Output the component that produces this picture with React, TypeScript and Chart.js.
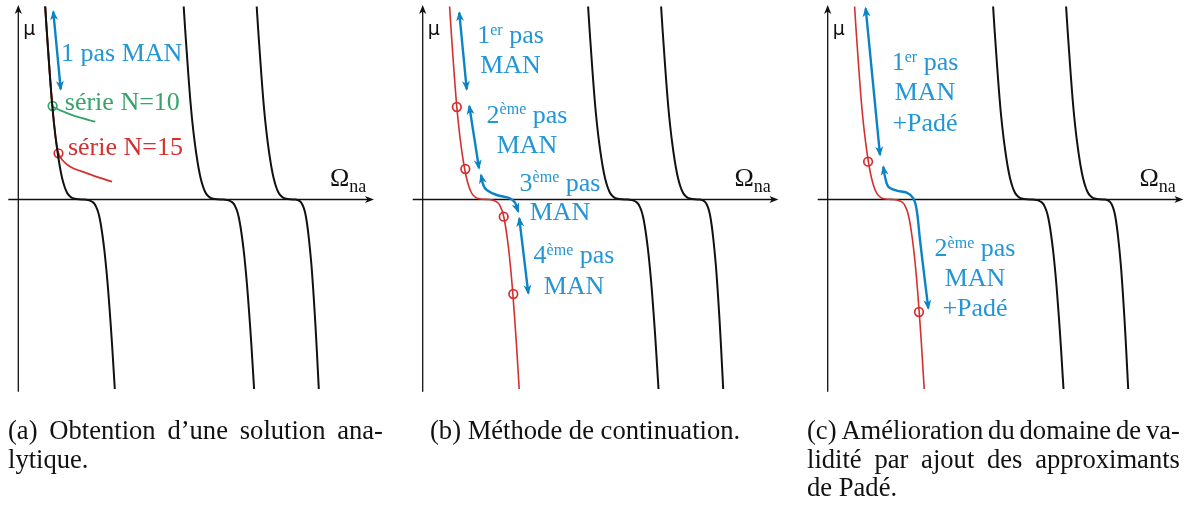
import React, { useEffect, useRef } from "react";
import { Chart, registerables } from "chart.js";

Chart.register(...registerables);

type Pt = [number, number];

// ---------- data (panel-local coordinates: Ω_na horizontal, μ vertical) ----------
const CURVE_1: Pt[] = [
  [26.9, 193], [28.3, 171], [29.8, 149.5], [31.6, 124], [33.5, 99.5], [35, 83], [36.6, 68], [37.95, 57],
  [39.3, 47], [41.5, 33], [43.8, 21.5], [46.2, 13], [48.4, 7.5], [50.35, 4.5], [52.9, 2.2], [55.5, 1.0],
  [60.5, 0.2], [66, 0], [69.7, -0.6], [72.2, -1.4], [74.4, -2.6], [76.2, -4.4], [77.7, -7.2], [79.5, -11.5],
  [81, -17], [82.7, -26], [84.4, -37.5], [86.1, -51], [87.8, -67.5], [89.3, -84], [90.6, -100.5], [92.4, -125],
  [94.1, -150.5], [96.5, -189.5],
];
const CURVE_2: Pt[] = [
  [165.4, 193], [166.8, 171], [168.3, 149.5], [170.1, 124], [172, 99.5], [173.5, 83], [175.1, 68], [176.45, 57],
  [177.8, 47], [180, 33], [182.3, 21.5], [184.7, 13], [186.9, 7.5], [188.85, 4.5], [191.4, 2.2], [194, 1.0],
  [199, 0.2], [205, 0], [209, -0.6], [211.5, -1.4], [213.7, -2.6], [215.5, -4.4], [217, -7.2], [218.8, -11.5],
  [220.3, -17], [222, -26], [223.7, -37.5], [225.4, -51], [227.1, -67.5], [228.6, -84], [229.9, -100.5],
  [231.7, -125], [233.4, -150.5], [235.8, -189.5],
];
const CURVE_3: Pt[] = [
  [238.4, 193], [239.8, 171], [241.3, 149.5], [243.1, 124], [245, 99.5], [246.5, 83], [248.1, 68], [249.45, 57],
  [250.8, 47], [253, 33], [255.3, 21.5], [257.7, 13], [259.9, 7.5], [261.85, 4.5], [264.4, 2.2], [267, 1.0],
  [272, 0.2], [277.5, 0], [279.5, -0.6], [281, -1.4], [282.5, -2.6], [283.8, -4.4], [285, -7.2], [286.4, -11.5],
  [287.6, -17], [289, -26], [290.4, -37.5], [291.8, -51], [293.3, -67.5], [294.5, -84], [295.6, -100.5],
  [297.1, -125], [298.5, -150.5], [300.5, -189.5],
];

// panel (a)
const A_GREEN_SERIES: Pt[] = [
  [26.9, 193], [28.3, 171], [29.8, 149.5], [31.6, 124], [33.5, 99.5], [34.3, 93.5], [39, 90.5], [45.3, 87.8],
  [58.7, 82.8], [77, 77.8],
];
const A_RED_SERIES: Pt[] = [
  [26.9, 193], [28.3, 171], [29.8, 149.5], [31.6, 124], [33.5, 99.5], [35, 83], [36.6, 68], [37.95, 57],
  [40.2, 46.2], [44, 39.5], [52, 32.8], [68.7, 26.2], [93.7, 17.8],
];
const A_ARROW: Pt[] = [[35, 187.8], [42.4, 110.2]];
const A_GREEN_POINTS: Pt[] = [[34.3, 93.5]];
const A_RED_POINTS: Pt[] = [[40.2, 46.2]];

// panel (b)
const B_ARROW_1: Pt[] = [[36.6, 186.8], [44, 110.2]];
const B_ARROW_2: Pt[] = [[46.6, 93.5], [56.3, 31.2]];
const B_ARROW_3: Pt[] = [[58.3, 24.5], [60.6, 14.5], [64, 9.5], [74, 4.5], [87.3, 1.2], [92.3, -3.2], [95.6, -12.2]];
const B_ARROW_4: Pt[] = [[96.6, -18.8], [105.6, -93.8]];
const B_POINTS: Pt[] = [[34.1, 92.5], [42.6, 30.5], [81, -17.2], [90.6, -94.5]];

// panel (c)
const C_ARROW_1: Pt[] = [[38, 191.2], [52.3, 44.5]];
const C_ARROW_2: Pt[] = [
  [55.6, 32.8], [57.3, 22.8], [60.6, 12.8], [69, 8.8], [79, 6.8], [85.6, 1.2], [89, -10.5], [92.3, -40.5],
  [96.3, -73.8], [100.6, -108.8],
];
const C_POINTS: Pt[] = [[40.4, 37.8], [91.3, -112.5]];

// axes extents (panel-local)
const X_AXIS_RANGE: Pt = [-10, 355.7];
const Y_AXIS_RANGE: Pt = [-192.2, 194.5];

// text
type Run = { t: string; sup?: boolean; sub?: boolean };
type Note = { panel: string; x: number; y: number; runs: Run[]; color: string; align: "left" | "center"; sans?: boolean };

const BLUE_LINE = "#0b83c7";
const BLUE_TEXT = "#2596d5";
const RED = "#d52f2f";
const GREEN = "#36a46a";
const BLACK = "#111111";

const PANELS = ["xa", "xb", "xc"];

const AXIS_NOTES: Note[] = PANELS.flatMap((p) => [
  { panel: p, x: 5, y: 164.7, runs: [{ t: "μ" }], color: BLACK, align: "left", sans: true } as Note,
  { panel: p, x: 311.7, y: 13.5, runs: [{ t: "Ω" }, { t: "na", sub: true }], color: BLACK, align: "left" } as Note,
]);

const NOTES: Note[] = [
  { panel: "xa", x: 42.7, y: 138.5, runs: [{ t: "1 pas MAN" }], color: BLUE_TEXT, align: "left" },
  { panel: "xa", x: 46.5, y: 89.5, runs: [{ t: "série N=10" }], color: GREEN, align: "left" },
  { panel: "xa", x: 49.6, y: 44.5, runs: [{ t: "série N=15" }], color: RED, align: "left" },

  { panel: "xb", x: 87.8, y: 156.2, runs: [{ t: "1" }, { t: "er", sup: true }, { t: " pas" }], color: BLUE_TEXT, align: "center" },
  { panel: "xb", x: 87.8, y: 126.8, runs: [{ t: "MAN" }], color: BLUE_TEXT, align: "center" },
  { panel: "xb", x: 104.3, y: 76.8, runs: [{ t: "2" }, { t: "ème", sup: true }, { t: " pas" }], color: BLUE_TEXT, align: "center" },
  { panel: "xb", x: 104.3, y: 46.8, runs: [{ t: "MAN" }], color: BLUE_TEXT, align: "center" },
  { panel: "xb", x: 137.3, y: 8.8, runs: [{ t: "3" }, { t: "ème", sup: true }, { t: " pas" }], color: BLUE_TEXT, align: "center" },
  { panel: "xb", x: 137.3, y: -20.5, runs: [{ t: "MAN" }], color: BLUE_TEXT, align: "center" },
  { panel: "xb", x: 151.3, y: -63.8, runs: [{ t: "4" }, { t: "ème", sup: true }, { t: " pas" }], color: BLUE_TEXT, align: "center" },
  { panel: "xb", x: 151.3, y: -94.5, runs: [{ t: "MAN" }], color: BLUE_TEXT, align: "center" },

  { panel: "xc", x: 97.3, y: 129.5, runs: [{ t: "1" }, { t: "er", sup: true }, { t: " pas" }], color: BLUE_TEXT, align: "center" },
  { panel: "xc", x: 97.3, y: 99.5, runs: [{ t: "MAN" }], color: BLUE_TEXT, align: "center" },
  { panel: "xc", x: 97.3, y: 68.5, runs: [{ t: "+Padé" }], color: BLUE_TEXT, align: "center" },
  { panel: "xc", x: 147.3, y: -56.5, runs: [{ t: "2" }, { t: "ème", sup: true }, { t: " pas" }], color: BLUE_TEXT, align: "center" },
  { panel: "xc", x: 147.3, y: -86.5, runs: [{ t: "MAN" }], color: BLUE_TEXT, align: "center" },
  { panel: "xc", x: 147.3, y: -116.5, runs: [{ t: "+Padé" }], color: BLUE_TEXT, align: "center" },
];

const CAPTIONS = [
  { left: 8, width: 375, lines: ["(a) Obtention d’une solution ana-", "lytique."] },
  { left: 430, width: 375, lines: ["(b) Méthode de continuation."] },
  { left: 807, width: 373, lines: ["(c) Amélioration du domaine de va-", "lidité par ajout des approximants", "de Padé."] },
];

// ---------- layout ----------
const W = 1188;
const H = 505;
const ORIGIN_X = [18.3, 422.7, 827.7];
const ORIGIN_Y = 199.5;
const SERIF = '"Liberation Serif", "Times New Roman", serif';

const toXY = (d: Pt[]) => d.map(([x, y]) => ({ x, y }));

function lineDs(data: Pt[], axis: string, color: string, width: number, extra: any = {}) {
  return {
    data: toXY(data),
    xAxisID: axis,
    yAxisID: "y",
    showLine: true,
    borderColor: color,
    backgroundColor: color,
    borderWidth: width,
    pointRadius: 0,
    pointHoverRadius: 0,
    fill: false,
    clip: false,
    tension: 0.35,
    borderCapStyle: "butt",
    borderJoinStyle: "round",
    ...extra,
  };
}

function pointDs(data: Pt[], axis: string, color: string) {
  return {
    data: toXY(data),
    xAxisID: axis,
    yAxisID: "y",
    showLine: false,
    clip: false,
    pointRadius: 4.3,
    pointHoverRadius: 4.3,
    pointBorderWidth: 1.7,
    pointBorderColor: color,
    pointBackgroundColor: "#ffffff",
    borderColor: color,
    backgroundColor: "#ffffff",
  };
}

function arrowHead(ctx: CanvasRenderingContext2D, x: number, y: number, dx: number, dy: number, len: number, half: number, color: string) {
  const n = Math.hypot(dx, dy) || 1;
  const ux = dx / n;
  const uy = dy / n;
  const px = -uy;
  const py = ux;
  const tx = x + ux * 1.5;
  const ty = y + uy * 1.5;
  const bx = tx - ux * len;
  const by = ty - uy * len;
  ctx.save();
  ctx.fillStyle = color;
  ctx.beginPath();
  ctx.moveTo(tx, ty);
  ctx.lineTo(bx + px * half, by + py * half);
  ctx.lineTo(tx - ux * len * 0.72, ty - uy * len * 0.72);
  ctx.lineTo(bx - px * half, by - py * half);
  ctx.closePath();
  ctx.fill();
  ctx.restore();
}

const axesPlugin = {
  id: "panelAxes",
  beforeDatasetsDraw(chart: any) {
    const ctx = chart.ctx as CanvasRenderingContext2D;
    const ys = chart.scales.y;
    ctx.save();
    ctx.strokeStyle = BLACK;
    ctx.lineWidth = 1.3;
    PANELS.forEach((id) => {
      const xs = chart.scales[id];
      const y0 = ys.getPixelForValue(0);
      const x0 = xs.getPixelForValue(0);
      const xl = xs.getPixelForValue(X_AXIS_RANGE[0]);
      const xr = xs.getPixelForValue(X_AXIS_RANGE[1]);
      const yb = ys.getPixelForValue(Y_AXIS_RANGE[0]);
      const yt = ys.getPixelForValue(Y_AXIS_RANGE[1]);
      ctx.beginPath();
      ctx.moveTo(xl, y0);
      ctx.lineTo(xr - 4, y0);
      ctx.moveTo(x0, yb);
      ctx.lineTo(x0, yt + 4);
      ctx.stroke();
      arrowHead(ctx, xr - 1.5, y0, 1, 0, 9, 3.6, BLACK);
      arrowHead(ctx, x0, yt + 1.5, 0, -1, 9, 3.6, BLACK);
    });
    ctx.restore();
  },
};

const arrowsPlugin = {
  id: "datasetArrows",
  afterDatasetsDraw(chart: any) {
    const ctx = chart.ctx as CanvasRenderingContext2D;
    chart.data.datasets.forEach((ds: any, i: number) => {
      if (!ds.arrows) return;
      const pts = chart.getDatasetMeta(i).data;
      if (pts.length < 2) return;
      const first = pts[0];
      const second = pts[1];
      const last = pts[pts.length - 1];
      const prev = pts[pts.length - 2];
      let sdx = first.x - (first.cp2x ?? second.x);
      let sdy = first.y - (first.cp2y ?? second.y);
      if (Math.hypot(sdx, sdy) < 0.5) { sdx = first.x - second.x; sdy = first.y - second.y; }
      let edx = last.x - (last.cp1x ?? prev.x);
      let edy = last.y - (last.cp1y ?? prev.y);
      if (Math.hypot(edx, edy) < 0.5) { edx = last.x - prev.x; edy = last.y - prev.y; }
      arrowHead(ctx, first.x, first.y, sdx, sdy, 10, 4, ds.borderColor);
      arrowHead(ctx, last.x, last.y, edx, edy, 10, 4, ds.borderColor);
    });
  },
};

function drawNote(chart: any, note: Note) {
  const ctx = chart.ctx as CanvasRenderingContext2D;
  const xs = chart.scales[note.panel];
  const ys = chart.scales.y;
  const x = xs.getPixelForValue(note.x);
  const y = ys.getPixelForValue(note.y);
  const size = note.sans ? 19 : 26;
  const fam = note.sans ? '"DejaVu Sans", sans-serif' : SERIF;
  const fontOf = (r: Run) => (r.sup ? `16px ${fam}` : r.sub ? `18px ${fam}` : `${size}px ${fam}`);
  const widths = note.runs.map((r) => {
    ctx.font = fontOf(r);
    return ctx.measureText(r.t).width;
  });
  const total = widths.reduce((a, b) => a + b, 0);
  let cx = note.align === "center" ? x - total / 2 : x;
  ctx.save();
  ctx.fillStyle = note.color;
  ctx.textBaseline = "alphabetic";
  ctx.textAlign = "left";
  note.runs.forEach((r, i) => {
    ctx.font = fontOf(r);
    const dy = r.sup ? -8.5 : r.sub ? 5.7 : 0;
    ctx.fillText(r.t, cx, y + dy);
    cx += widths[i];
  });
  ctx.restore();
}

const notesPlugin = {
  id: "notes",
  afterDatasetsDraw(chart: any) {
    AXIS_NOTES.forEach((n) => drawNote(chart, n));
    NOTES.forEach((n) => drawNote(chart, n));
  },
};

function xScale(i: number) {
  return {
    type: "linear",
    display: false,
    min: -ORIGIN_X[i],
    max: W - ORIGIN_X[i],
  };
}

export default function App() {
  const ref = useRef<HTMLCanvasElement | null>(null);

  useEffect(() => {
    if (!ref.current) return;
    const datasets: any[] = [
      // panel a
      lineDs(CURVE_1, "xa", BLACK, 2),
      lineDs(CURVE_2, "xa", BLACK, 2),
      lineDs(CURVE_3, "xa", BLACK, 2),
      lineDs(A_RED_SERIES, "xa", RED, 1.8),
      lineDs(A_GREEN_SERIES, "xa", GREEN, 1.8),
      lineDs(A_ARROW, "xa", BLUE_LINE, 2.4, { arrows: true }),
      pointDs(A_GREEN_POINTS, "xa", GREEN),
      pointDs(A_RED_POINTS, "xa", RED),
      // panel b
      lineDs(CURVE_1, "xb", RED, 1.6),
      lineDs(CURVE_2, "xb", BLACK, 2),
      lineDs(CURVE_3, "xb", BLACK, 2),
      lineDs(B_ARROW_1, "xb", BLUE_LINE, 2.4, { arrows: true }),
      lineDs(B_ARROW_2, "xb", BLUE_LINE, 2.4, { arrows: true }),
      lineDs(B_ARROW_3, "xb", BLUE_LINE, 2.4, { arrows: true }),
      lineDs(B_ARROW_4, "xb", BLUE_LINE, 2.4, { arrows: true }),
      pointDs(B_POINTS, "xb", RED),
      // panel c
      lineDs(CURVE_1, "xc", RED, 1.6),
      lineDs(CURVE_2, "xc", BLACK, 2),
      lineDs(CURVE_3, "xc", BLACK, 2),
      lineDs(C_ARROW_1, "xc", BLUE_LINE, 2.4, { arrows: true }),
      lineDs(C_ARROW_2, "xc", BLUE_LINE, 2.4, { arrows: true }),
      pointDs(C_POINTS, "xc", RED),
    ];
    const chart = new Chart(ref.current, {
      type: "scatter",
      data: { datasets },
      options: {
        responsive: false,
        maintainAspectRatio: false,
        animation: false,
        events: [],
        layout: { padding: 0, autoPadding: false },
        plugins: { legend: { display: false }, tooltip: { enabled: false } },
        scales: {
          xa: xScale(0),
          xb: xScale(1),
          xc: xScale(2),
          y: { type: "linear", display: false, min: ORIGIN_Y - H, max: ORIGIN_Y },
        } as any,
      } as any,
      plugins: [axesPlugin, arrowsPlugin, notesPlugin],
    });
    return () => chart.destroy();
  }, []);

  const LINE_H = 28.3;
  const FIRST_BASELINE = 439.5;
  const FONT_SIZE = 26.6;
  const ascentInLine = (LINE_H - FONT_SIZE * 1.107) / 2 + FONT_SIZE * 0.891;

  return (
    <div style={{ position: "fixed", left: 0, top: 0, width: W, height: H, background: "#ffffff", overflow: "hidden" }}>
      <canvas ref={ref} width={W} height={H} style={{ position: "absolute", left: 0, top: 0, width: W, height: H }} />
      {CAPTIONS.map((cap, ci) => (
        <div
          key={ci}
          style={{
            position: "absolute",
            left: cap.left,
            top: FIRST_BASELINE - ascentInLine,
            width: cap.width,
            fontFamily: SERIF,
            fontSize: FONT_SIZE,
            lineHeight: `${LINE_H}px`,
            color: "#111",
          }}
        >
          {cap.lines.map((ln, li) => {
            const full = li < cap.lines.length - 1;
            if (!full) return <div key={li} style={{ whiteSpace: "nowrap", height: LINE_H }}>{ln}</div>;
            return (
              <div key={li} style={{ display: "flex", justifyContent: "space-between", whiteSpace: "nowrap", height: LINE_H }}>
                {ln.split(" ").map((w, wi) => (
                  <span key={wi}>{w}</span>
                ))}
              </div>
            );
          })}
        </div>
      ))}
    </div>
  );
}
